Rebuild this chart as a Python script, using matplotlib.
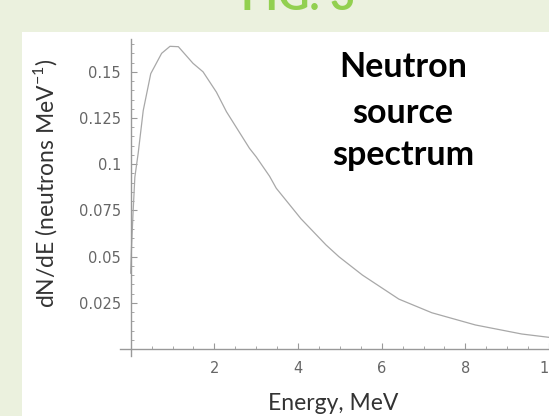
import matplotlib
matplotlib.use("Agg")
import matplotlib.pyplot as plt
from matplotlib.patches import Rectangle
from matplotlib.ticker import FixedLocator

# values
energy = [0.0, 0.02, 0.06, 0.10, 0.18, 0.30, 0.48, 0.74, 0.94, 1.14, 1.49,
          1.73, 2.05, 2.29, 2.84, 3.00, 3.32, 3.48, 4.07, 4.67, 4.98, 5.54,
          6.41, 7.20, 8.24, 9.35, 10.0]
dnde = [0.041, 0.055, 0.075, 0.093, 0.106, 0.129, 0.149, 0.160, 0.1638,
        0.1636, 0.1546, 0.150, 0.139, 0.1284, 0.1086, 0.104, 0.0935, 0.087,
        0.0705, 0.0563, 0.0499, 0.040, 0.027, 0.0196, 0.013, 0.0081, 0.0063]
x_ticks = [2, 4, 6, 8, 10]
y_ticks = [0.025, 0.05, 0.075, 0.1, 0.125, 0.15]
y_labels = ["0.025", "0.05", "0.075", "0.1", "0.125", "0.15"]
x_minor = [i * 0.5 for i in range(21)]
y_minor = [i * 0.005 for i in range(34)]

plt.rcParams["mathtext.fontset"] = "custom"
plt.rcParams["mathtext.rm"] = "Lato"

W, H = 549, 416


def fx(px):
    return px / W


def fy(py):
    return 1 - py / H


fig = plt.figure(figsize=(5.49, 4.16), dpi=100)
fig.patch.set_facecolor("#ebf1de")

# white slide panel, behind the axes
panel = Rectangle((fx(22), 0), 1 - fx(22), fy(32), transform=fig.transFigure,
                  facecolor="white", edgecolor="none", zorder=-10)
fig.patches.append(panel)

fig.text(fx(298), fy(10), "FIG. 3", color="#92d050", fontsize=31, fontweight="bold",
         family="Lato", ha="center", va="baseline")

ax = fig.add_axes([fx(120), fy(356), fx(549) - fx(120), fy(39.3) - fy(356)])
ax.set_facecolor("none")
ax.plot(energy, dnde, color="#a8a8a8", lw=0.9)

ax.set_xlim(-0.255, 9.97)
ax.set_ylim(-0.0038, 0.1676)

for s in ["top", "right"]:
    ax.spines[s].set_visible(False)
for s in ["left", "bottom"]:
    ax.spines[s].set_position(("data", 0))
    ax.spines[s].set_color("#999999")
    ax.spines[s].set_linewidth(1.0)

ax.set_xticks(x_ticks)
ax.set_yticks(y_ticks)
ax.set_yticklabels(y_labels)
ax.xaxis.set_minor_locator(FixedLocator(x_minor))
ax.yaxis.set_minor_locator(FixedLocator(y_minor))
ax.tick_params(which="both", direction="in", color="#999999", labelcolor="#666666",
               labelsize=10.5)
ax.tick_params(which="major", length=4, width=0.8)
ax.tick_params(which="minor", length=2, width=0.6)
ax.tick_params(axis="x", which="major", pad=9)
ax.tick_params(axis="y", which="major", pad=7)

fig.text(fx(333), fy(404), "Energy, MeV", color="#333333", fontsize=16.5, family="Lato",
         ha="center", va="center")
fig.text(fx(45), fy(183), "dN/dE (neutrons MeV$^{\\mathregular{-1}}$)", color="#333333",
         fontsize=16.5, family="Lato", rotation=90, ha="center", va="center")

for txt, base in [("Neutron", 77.3), ("source", 123.3), ("spectrum", 165)]:
    fig.text(fx(403), fy(base), txt, color="black", fontsize=24.5, fontweight="bold",
             family="Lato", ha="center", va="baseline")

fig.savefig("out.png", dpi=100, facecolor=fig.get_facecolor())
